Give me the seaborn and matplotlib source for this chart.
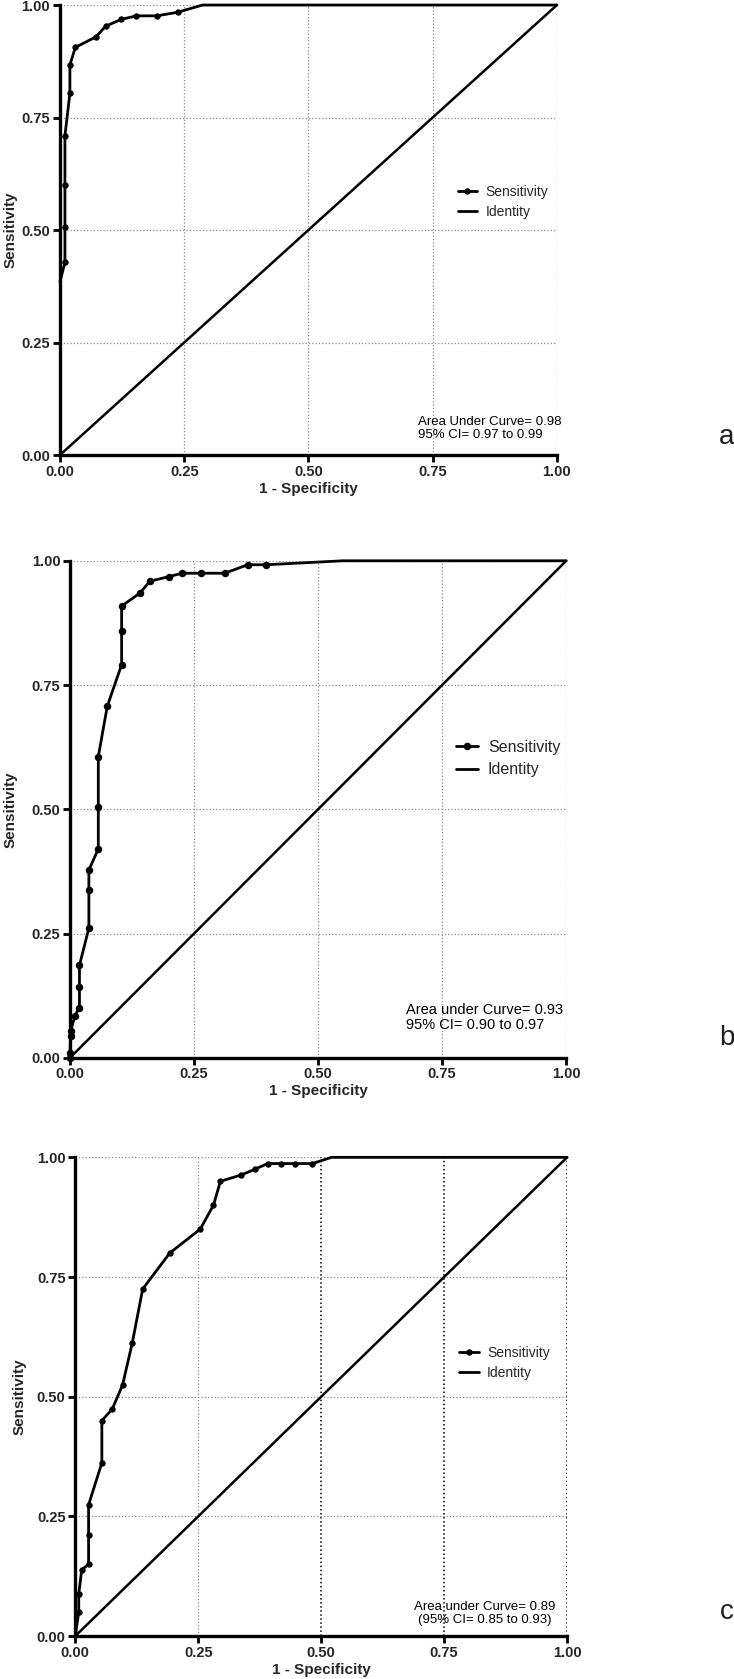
import matplotlib

matplotlib.use("Agg")

import matplotlib.pyplot as plt
import seaborn as sns
from matplotlib.lines import Line2D
from matplotlib.ticker import FormatStrFormatter

# ROC data (1 - specificity, sensitivity)
fpr_a = [0.0, 0.010, 0.010, 0.010, 0.010, 0.020, 0.020, 0.031, 0.072, 0.092,
         0.123, 0.154, 0.195, 0.237, 0.287, 1.0]
tpr_a = [0.385, 0.428, 0.506, 0.600, 0.710, 0.804, 0.867, 0.906, 0.929, 0.953,
         0.968, 0.976, 0.976, 0.984, 1.0, 1.0]

fpr_b = [0.0, 0.0, 0.001, 0.001, 0.010, 0.019, 0.019, 0.019, 0.038, 0.038,
         0.038, 0.057, 0.057, 0.057, 0.075, 0.104, 0.104, 0.104, 0.141, 0.161,
         0.199, 0.226, 0.264, 0.312, 0.358, 0.395, 0.55, 1.0]
tpr_b = [0.0, 0.009, 0.043, 0.053, 0.085, 0.101, 0.143, 0.186, 0.261, 0.337,
         0.378, 0.420, 0.504, 0.606, 0.707, 0.791, 0.858, 0.909, 0.935, 0.959,
         0.968, 0.975, 0.975, 0.975, 0.992, 0.992, 1.0, 1.0]

fpr_c = [0.0, 0.007, 0.007, 0.013, 0.027, 0.027, 0.027, 0.054, 0.054, 0.075,
         0.096, 0.116, 0.137, 0.192, 0.254, 0.281, 0.295, 0.337, 0.365, 0.391,
         0.419, 0.447, 0.482, 0.521, 1.0]
tpr_c = [0.0, 0.050, 0.088, 0.138, 0.150, 0.212, 0.274, 0.362, 0.450, 0.474,
         0.524, 0.613, 0.725, 0.800, 0.850, 0.900, 0.950, 0.963, 0.975, 0.987,
         0.987, 0.987, 0.987, 1.0, 1.0]

identity = [0.0, 1.0]
ticks = [0.0, 0.25, 0.50, 0.75, 1.00]

auc_text = [
    "Area Under Curve= 0.98\n95% CI= 0.97 to 0.99",
    "Area under Curve= 0.93\n95% CI= 0.90 to 0.97",
    "Area under Curve= 0.89\n(95% CI= 0.85 to 0.93)",
]
panel_labels = ["a", "b", "c"]

sns.set_theme(style="white")
plt.rcParams["font.family"] = ["Liberation Sans", "DejaVu Sans"]
narrow = ["Liberation Sans Narrow", "Liberation Sans", "DejaVu Sans"]

fig = plt.figure(figsize=(7.34, 16.79), dpi=100)

# per-panel layout: axes rect, markevery, marker size, legend anchor, text pos, fonts
panels = [
    dict(rect=[0.0817, 0.729, 0.677, 0.268], fpr=fpr_a, tpr=tpr_a, mark=slice(1, -2),
         ms=4.6, leg=(0.80, 0.563), leg_fs=10, txt=(0.72, 0.059), ha="left", txt_fs=9.5,
         ylab_x=-0.085, lab_y=0.740),
    dict(rect=[0.0954, 0.370, 0.676, 0.296], fpr=fpr_b, tpr=tpr_b, mark=slice(0, -2),
         ms=5.4, leg=(0.778, 0.602), leg_fs=11.5, txt=(0.677, 0.081), ha="left", txt_fs=10.5,
         ylab_x=-0.105, lab_y=0.382),
    dict(rect=[0.1026, 0.0256, 0.670, 0.2851], fpr=fpr_c, tpr=tpr_c, mark=slice(1, -2),
         ms=4.6, leg=(0.781, 0.570), leg_fs=10, txt=(0.833, 0.047), ha="center", txt_fs=9.5,
         ylab_x=-0.100, lab_y=0.040),
]

for i, p in enumerate(panels):
    ax = fig.add_axes(p["rect"])
    sns.lineplot(x=p["fpr"], y=p["tpr"], sort=False, estimator=None, ax=ax,
                 color="black", linewidth=2.0, marker="o", markersize=p["ms"],
                 markeredgewidth=0, markevery=p["mark"], clip_on=False, zorder=4)
    sns.lineplot(x=identity, y=identity, sort=False, estimator=None, ax=ax,
                 color="black", linewidth=1.8, clip_on=False, zorder=3)

    ax.set_xlim(0, 1)
    ax.set_ylim(0, 1)
    ax.set_xticks(ticks)
    ax.set_yticks(ticks)
    ax.xaxis.set_major_formatter(FormatStrFormatter("%.2f"))
    ax.yaxis.set_major_formatter(FormatStrFormatter("%.2f"))
    for lbl in ax.get_xticklabels() + ax.get_yticklabels():
        lbl.set_fontfamily(narrow)
        lbl.set_fontweight("bold")
        lbl.set_fontsize(10.5)
    ax.tick_params(direction="out", length=5, width=2, pad=2, color="black",
                   bottom=True, left=True)

    ax.grid(True, linestyle=":", color="#8a8a8a", linewidth=0.9)
    ax.set_axisbelow(True)
    if i == 2:
        for gl in ax.get_xgridlines()[2:]:
            gl.set_color("black")
            gl.set_linewidth(1.1)

    for side in ["top", "right"]:
        ax.spines[side].set_visible(False)
    for side in ["left", "bottom"]:
        ax.spines[side].set_color("black")
        ax.spines[side].set_linewidth(2.4)

    ax.set_xlabel("1 - Specificity", fontfamily=narrow, fontweight="bold",
                  fontsize=11, labelpad=2)
    ax.set_ylabel("Sensitivity", fontfamily=narrow, fontweight="bold", fontsize=11)
    ax.yaxis.set_label_coords(p["ylab_x"], 0.5)

    handles = [
        Line2D([], [], color="black", linewidth=2.0, marker="o", markersize=p["ms"],
               markeredgewidth=0),
        Line2D([], [], color="black", linewidth=2.0),
    ]
    ax.legend(handles, ["Sensitivity", "Identity"], loc="center left",
              bbox_to_anchor=p["leg"], frameon=False, fontsize=p["leg_fs"],
              handlelength=1.4, handletextpad=0.6, borderpad=0, borderaxespad=0,
              labelspacing=0.45)

    ax.text(p["txt"][0], p["txt"][1], auc_text[i], transform=ax.transAxes,
            ha=p["ha"], va="center", multialignment="center" if p["ha"] == "center" else "left",
            fontsize=p["txt_fs"], linespacing=1.1, color="black")

    fig.text(0.9905, p["lab_y"], panel_labels[i], ha="center", va="center",
             fontsize=20, color="#222222")

fig.savefig("out.png", dpi=100)
